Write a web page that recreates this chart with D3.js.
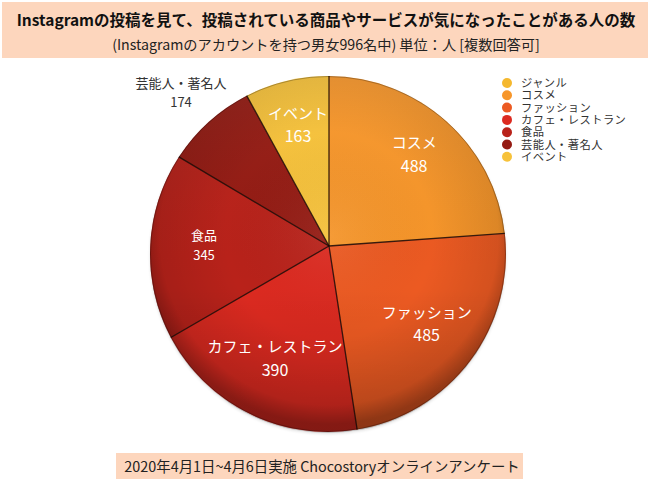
<!DOCTYPE html>
<html><head><meta charset="utf-8">
<script src="https://cdn.jsdelivr.net/npm/d3@7"></script>
<style>body{margin:0;background:#fff;}svg{display:block;font-family:"Noto Sans CJK JP","Noto Sans",sans-serif;}</style>
</head><body>
<svg id="c" width="650" height="484"></svg>
<script>
const titleText = "Instagramの投稿を見て、投稿されている商品やサービスが気になったことがある人の数";
const subtitleText = "(Instagramのアカウントを持つ男女996名中) 単位：人 [複数回答可]";
const footerText = "2020年4月1日~4月6日実施 Chocostoryオンラインアンケート";
const legendTitle = "ジャンル";
const categories = ["コスメ","ファッション","カフェ・レストラン","食品","芸能人・著名人","イベント"];
const values = [488, 485, 390, 345, 174, 163];
const outsideLabels = ["芸能人・著名人"];

const colors = ["#F7962A","#EC5A22","#DC2A20","#B9221A","#951B13","#F7C23A"];
const legendTitleColor = "#F5B82E";

const svg = d3.select("#c");
// header band
svg.append("rect").attr("x",2).attr("y",2).attr("width",646).attr("height",56).attr("fill","#FDD6BD");
svg.append("text").attr("x",326).attr("y",26).attr("text-anchor","middle")
  .attr("font-size",15.5).attr("font-weight","bold").attr("fill","#111").text(titleText);
svg.append("text").attr("x",326).attr("y",49.5).attr("text-anchor","middle")
  .attr("font-size",14.2).attr("fill","#222").text(subtitleText);
// footer band
svg.append("rect").attr("x",116).attr("y",453).attr("width",407).attr("height",26).attr("fill","#FDD6BD");
svg.append("text").attr("x",322).attr("y",472).attr("text-anchor","middle")
  .attr("font-size",14.4).attr("fill","#222").text(footerText);

// pie geometry
const C = {x:328, y:254}, R = 178, A = {x:329, y:246};
const defs = svg.append("defs");
const rg = defs.append("radialGradient").attr("id","shade").attr("gradientUnits","userSpaceOnUse")
  .attr("cx",A.x).attr("cy",A.y-10).attr("r",R+10);
rg.append("stop").attr("offset","0").attr("stop-color","#fff").attr("stop-opacity",0.06);
rg.append("stop").attr("offset","0.55").attr("stop-color","#000").attr("stop-opacity",0.0);
rg.append("stop").attr("offset","0.9").attr("stop-color","#000").attr("stop-opacity",0.1);
rg.append("stop").attr("offset","1").attr("stop-color","#000").attr("stop-opacity",0.3);
const lg = defs.append("linearGradient").attr("id","vshade").attr("x1",0).attr("y1",0).attr("x2",0).attr("y2",1);
lg.append("stop").attr("offset","0").attr("stop-color","#fff").attr("stop-opacity",0.05);
lg.append("stop").attr("offset","0.6").attr("stop-color","#000").attr("stop-opacity",0);
lg.append("stop").attr("offset","1").attr("stop-color","#000").attr("stop-opacity",0.15);
const sh = defs.append("filter").attr("id","ds").attr("x","-10%").attr("y","-10%").attr("width","120%").attr("height","120%");
sh.append("feGaussianBlur").attr("in","SourceAlpha").attr("stdDeviation",1.5);
sh.append("feOffset").attr("dx",0).attr("dy",1).attr("result","b");
sh.append("feComponentTransfer").append("feFuncA").attr("type","linear").attr("slope",0.5);
const fm = sh.append("feMerge"); fm.append("feMergeNode"); fm.append("feMergeNode").attr("in","SourceGraphic");

function rimPoint(theta){
  const dx = Math.sin(theta), dy = -Math.cos(theta);
  const wx = A.x - C.x, wy = A.y - C.y;
  const b = wx*dx + wy*dy, c = wx*wx + wy*wy - R*R;
  const t = -b + Math.sqrt(b*b - c);
  return [A.x + t*dx, A.y + t*dy];
}
function slicePath(d){
  const p1 = rimPoint(d.startAngle), p2 = rimPoint(d.endAngle);
  const large = (d.endAngle - d.startAngle) > Math.PI ? 1 : 0;
  return `M${A.x},${A.y}L${p1[0]},${p1[1]}A${R},${R} 0 ${large} 1 ${p2[0]},${p2[1]}Z`;
}
const data = categories.map((c,i)=>({cat:c, value:values[i], color:colors[i]}));
const arcs = d3.pie().sort(null).value(d=>d.value)(data);

const g = svg.append("g");
g.append("circle").attr("cx",C.x).attr("cy",C.y+1).attr("r",R).attr("fill","#000").attr("opacity",0.25).attr("filter","url(#ds)");
g.selectAll("path.slice").data(arcs).join("path").attr("class","slice")
  .attr("d",slicePath).attr("fill",d=>d.data.color);
g.append("circle").attr("cx",C.x).attr("cy",C.y).attr("r",R).attr("fill","url(#shade)");
g.append("circle").attr("cx",C.x).attr("cy",C.y).attr("r",R).attr("fill","url(#vshade)");
g.selectAll("path.sep").data(arcs).join("path").attr("class","sep")
  .attr("d",d=>{const p=rimPoint(d.startAngle);return `M${A.x},${A.y}L${p[0]},${p[1]}`;})
  .attr("stroke","#1a0804").attr("stroke-width",1.3).attr("stroke-opacity",0.85);
g.append("circle").attr("cx",C.x).attr("cy",C.y).attr("r",R-0.5).attr("fill","none")
  .attr("stroke","#000").attr("stroke-opacity",0.25).attr("stroke-width",1);

// labels
const lab = svg.append("g").attr("text-anchor","middle");
arcs.forEach(d=>{
  const mid = (d.startAngle + d.endAngle)/2;
  const out = outsideLabels.includes(d.data.cat);
  const r = out ? 213 : 125;
  const x = A.x + r*Math.sin(mid), y = A.y - r*Math.cos(mid);
  const small = d.data.cat === "食品" || out;
  const fs = small ? 13 : 15;
  const fill = out ? "#333" : "#fff";
  const gap = small ? 9.5 : 11.5;
  lab.append("text").attr("x",x).attr("y",y-gap+fs*0.35).attr("font-size",fs).attr("fill",fill).text(d.data.cat);
  lab.append("text").attr("x",x).attr("y",y+gap+fs*0.38).attr("font-size",fs+ (small?0:1)).attr("fill",fill).text(d.data.value);
});

// legend
const leg = svg.append("g");
const legItems = [{t:legendTitle,c:legendTitleColor}].concat(data.map(d=>({t:d.cat,c:d.color})));
legItems.forEach((it,i)=>{
  const y = 83 + i*12.3;
  leg.append("circle").attr("cx",507).attr("cy",y).attr("r",5).attr("fill",it.c);
  leg.append("text").attr("x",521).attr("y",y+4).attr("font-size",11.3).attr("letter-spacing",0.4).attr("fill","#333").text(it.t);
});
</script>
</body></html>
